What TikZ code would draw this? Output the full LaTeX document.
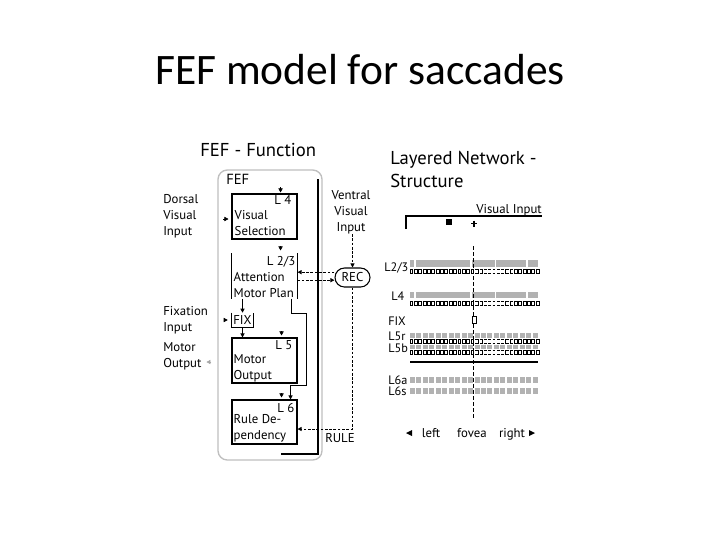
\documentclass[tikz,border=0pt]{standalone}
\usepackage{fontspec}
\setmainfont{PT Sans}
\newfontfamily\titlefont{Carlito}
\usetikzlibrary{arrows.meta,calc,positioning,shapes.misc}

% one row of small open cells, #1 = top edge
\newcommand{\cellrow}[1]{%
  \foreach \i in {0,...,29}{%
    \pgfmathsetmacro{\cx}{410+4.35*\i}%
    \ifnum\i<15 \draw[cell] (\cx,#1) rectangle ++(2.8,4);%
    \else\ifnum\i<17 \draw[cell] (\cx,#1) -- ++(2.8,0) -- ++(0,4) -- ++(-2.8,0);%
    \else\ifnum\i<22 \draw[cell] (\cx,#1) -- ++(2.8,0) (\cx,#1+4) -- ++(2.8,0);%
    \else\ifnum\i<24 \draw[cell] (\cx+2.8,#1) -- ++(-2.8,0) -- ++(0,4) -- ++(2.8,0);%
    \else \draw[cell] (\cx,#1) rectangle ++(2.8,4);%
    \fi\fi\fi\fi}}
% one row of gray blocks, #1 = top, #2 = bottom
\newcommand{\blockrow}[2]{%
  \foreach \k in {0,...,19}{\fill[bar] ({410+6.45*\k},#1) rectangle ++(5,{#2-#1});}}

\begin{document}
\begin{tikzpicture}[x=0.75pt, y=-0.75pt,
    txt/.style={font=\fontsize{9.6}{12}\selectfont, inner sep=0pt, align=left},
    rowlbl/.style={font=\fontsize{9.2}{11}\selectfont, inner sep=0pt, anchor=base west},
    head/.style={font=\fontsize{14}{17}\selectfont, inner sep=0pt},
    layer/.style={draw, line width=0.8pt, minimum width=48.75pt, minimum height=33.75pt, inner sep=0pt},
    side/.style={line width=0.8pt},
    conn/.style={line width=0.8pt, -{Triangle[length=3pt,width=3pt]}},
    recline/.style={line width=0.6pt, dash pattern=on 2pt off 1.2pt, -{Triangle[length=3pt,width=3pt]}},
    stub/.style={line width=0.4pt, -{Triangle[length=3pt,width=3.2pt]}},
    bar/.style={fill=black!30},
    cell/.style={line width=0.5pt}
]
    \useasboundingbox (0,0) rectangle (720,540);

    % Title
    \node[font=\titlefont\fontsize{32.6}{38}\selectfont, inner sep=0pt, anchor=base] (title) at (360,84) {FEF model for saccades};

    % FEF - Function
    \node[head, anchor=base west] (funchead) at (200,156) {FEF - Function};
    \node[draw=black!25, line width=1pt, rounded corners=7pt, minimum width=78pt, minimum height=217.5pt] (fef) at (270,315) {};
    \node[font=\fontsize{11}{13}\selectfont, inner sep=0pt, anchor=base west] (fefname) at (226,184) {FEF};

    % Layers
    \node[layer] (vissel) at (264.5,216.5) {};
    \node[layer, draw=none, minimum height=33pt] (attn) at (264.5,276) {};
    \node[inner sep=0pt, minimum width=15.75pt, minimum height=10.5pt, txt] (fix) at (242.5,320) {FIX};
    \node[layer] (motout) at (264.5,360.5) {};
    \node[layer, minimum height=33pt] (ruledep) at (264.5,422) {};
    \draw[side] (attn.north west) -- (attn.south west);
    \draw[side] (attn.north east) -- (attn.south east);
    \draw[side] (fix.north west) |- (fix.south east) -- (fix.north east);

    \node[txt, anchor=base east] at ($(vissel.north east)+(-6,11)$) {L 4};
    \node[txt, anchor=north west] at ($(vissel.north west)+(3,16.5)$) {Visual\\Selection};
    \node[txt, anchor=base east] at ($(attn.north east)+(-2,12)$) {L 2/3};
    \node[txt, anchor=north west] at ($(attn.north west)+(2,19)$) {Attention\\Motor Plan};
    \node[txt, anchor=base east] at ($(motout.north east)+(-5,12)$) {L 5};
    \node[txt, anchor=north west] at ($(motout.north west)+(2,17)$) {Motor\\Output};
    \node[txt, anchor=base east] at ($(ruledep.north east)+(-3,13)$) {L 6};
    \node[txt, anchor=north west] at ($(ruledep.north west)+(2,14.5)$) {Rule De-\\pendency};

    % Inputs and outputs
    \node[txt, anchor=north west] (dorsal) at (163,194) {Dorsal\\Visual\\Input};
    \node[txt, anchor=north west] (fixin) at (163,306) {Fixation\\Input};
    \node[txt, anchor=north west] (motorout) at (163,342) {Motor\\Output};
    \node[txt, align=center, anchor=north] (ventral) at (351,190) {Ventral\\Visual\\Input};
    \node[draw, rounded rectangle, line width=0.8pt, minimum width=26.25pt, minimum height=14.25pt, txt] (rec) at (352.5,277.5) {REC};
    \node[txt, anchor=base west] (rule) at (325,442) {RULE};

    % Small input tips
    \draw[stub] ($(vissel.north east)+(-17,-6)$) -- ($(vissel.north east)+(-17,-1)$);
    \draw[stub] ($(attn.north east)+(-17,-7)$) -- ($(attn.north east)+(-17,-3)$);
    \draw[stub] ($(motout.north east)+(-16,-6)$) -- ($(motout.north east)+(-16,-2)$);
    \draw[stub] ($(ruledep.north east)+(-16,-6)$) -- ($(ruledep.north east)+(-16,-2)$);
    \draw[stub] ($(vissel.west)+(-8,2.5)$) -- ($(vissel.west)+(-3,2.5)$);
    \draw[stub] ($(fix.west)+(-8,0)$) -- ($(fix.west)+(-4,0)$);
    \draw[stub, black!35] ($(motout.west)+(-20,1.5)$) -- ($(motout.west)+(-25,1.5)$);

    % Connections
    \draw[conn] (fix.north |- attn.south) -- (fix.north);
    \draw[conn] (fix.south) -- (fix.south |- motout.north);
    \draw[conn] ($(attn.south east)+(-6,0)$) -- ++(0,15) -- ++(15,0) |- ($(ruledep.north east)+(-7,-14)$) -- ($(ruledep.north east)+(-7,0)$);
    \coordinate (fbend) at (281,454);
    \coordinate (fbtop) at (318,179);
    \draw[side] (fbend) -| (fbtop);

    % REC loop
    \draw[recline] (ventral.south -| rec.north) -- (rec.north);
    \draw[recline] ([yshift=4pt]rec.west) -- ([yshift=4pt]rec.west -| attn.east);
    \draw[recline] ([yshift=-2pt]rec.west -| attn.east) -- ([yshift=-2pt]rec.west);
    \draw[recline] (rec.south) |- ($(ruledep.east)+(0,7)$);

    % Layered Network - Structure
    \node[head, anchor=base west] (nethead) at (390,164) {Layered Network -};
    \node[head, anchor=base west] (nethead2) at (390,187) {Structure};
    \node[txt, anchor=base east] (visin) at (542,213) {Visual Input};
    \coordinate (vinleft) at (406,229);
    \coordinate (vinright) at (542,216);
    \draw[side] (vinleft) |- (vinright);
    \fill (446,219) rectangle (452,225);
    \draw[line width=0.8pt] (471,223.5) -- (477,223.5) (474,220.5) -- (474,226.5);

    \foreach \a/\b in {410/414,416/470,471.5/494.5,496/526,527.5/538} {
        \fill[bar] (\a,260) rectangle (\b,267);
        \fill[bar] (\a,292) rectangle (\b,298);
    }
    \cellrow{269}
    \cellrow{301}
    \blockrow{333}{338}
    \cellrow{339}
    \blockrow{345}{349}
    \cellrow{350}
    \draw[side] (410,362) -- (538,362);
    \blockrow{377}{383}
    \blockrow{388}{394}

    \node[rowlbl] at (384,271) {L2/3};
    \node[rowlbl] at (391,300) {L4};
    \node[rowlbl] at (388,325) {FIX};
    \node[rowlbl] at (388,340) {L5r};
    \node[rowlbl] at (388,352) {L5b};
    \node[rowlbl] at (388,384) {L6a};
    \node[rowlbl] at (388,395) {L6s};

    \draw[line width=0.7pt, dash pattern=on 3pt off 1.5pt] (473,246) -- (473,420);
    \draw[cell, fill=white] (472,316) rectangle (476,323);

    \fill (406,433) -- (412,430) -- (412,436) -- cycle;
    \fill (535,433) -- (529,430) -- (529,436) -- cycle;
    \node[txt, anchor=base] at (431,437) {left};
    \node[txt, anchor=base] at (472,437) {fovea};
    \node[txt, anchor=base] at (512,437) {right};
\end{tikzpicture}
\end{document}
